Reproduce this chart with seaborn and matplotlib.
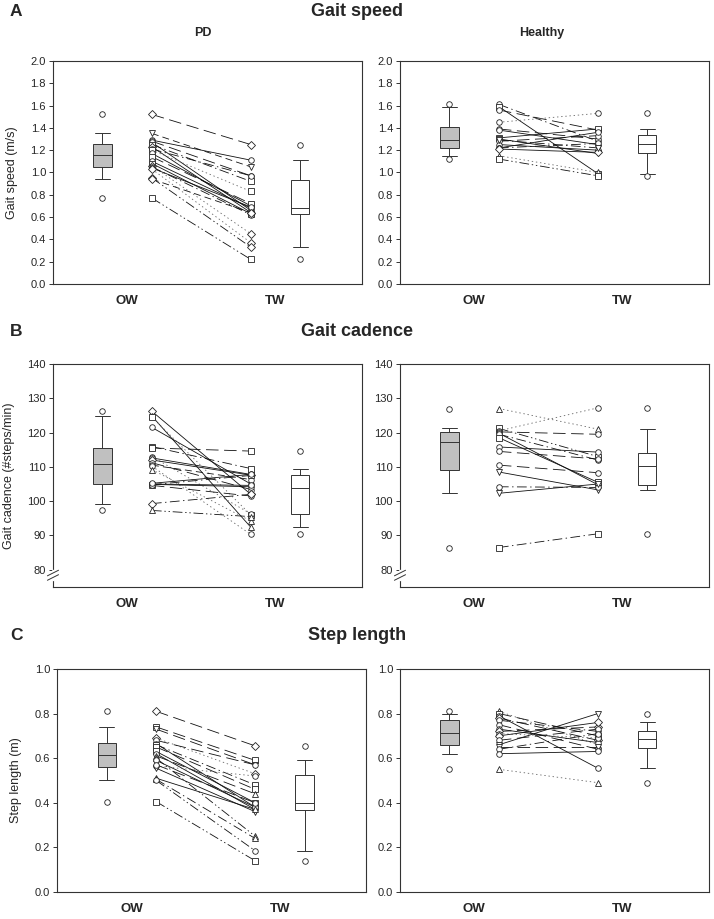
import numpy as np
import matplotlib
matplotlib.use("Agg")
import matplotlib.pyplot as plt
from matplotlib.ticker import FormatStrFormatter
import seaborn as sns

# Gait speed (m/s), one entry per subject: OW = overground, TW = treadmill
speed_pd_ow = [1.52, 1.35, 1.29, 1.28, 1.27, 1.25, 1.23, 1.21, 1.20, 1.17,
               1.14, 1.10, 1.08, 1.06, 1.05, 1.04, 1.03, 0.95, 0.94, 0.77]
speed_pd_tw = [1.25, 1.05, 1.11, 0.97, 0.66, 0.92, 0.64, 0.97, 0.83, 0.70,
               0.72, 0.68, 0.63, 0.45, 0.62, 0.69, 0.37, 0.33, 0.64, 0.22]
speed_pd_mk = list("DvooosDosososDooDDDs")
speed_pd_ls = ["long", "dash", "solid", "long", "solid", "dd", "solid", "dd", "dot", "solid",
               "long", "solid", "solid", "dot", "dd", "solid", "dot", "ddd", "dash", "ddd"]

speed_hc_ow = [1.61, 1.59, 1.56, 1.45, 1.39, 1.38, 1.31, 1.30, 1.28, 1.25,
               1.22, 1.22, 1.21, 1.15, 1.12, 1.29]
speed_hc_tw = [1.28, 0.99, 1.38, 1.53, 1.30, 1.25, 1.39, 1.17, 1.33, 1.20,
               1.36, 1.26, 1.18, 1.00, 0.97, 1.22]
speed_hc_mk = list("osoooosvooooD^sv")
speed_hc_ls = ["dd", "solid", "long", "dot", "long", "solid", "solid", "solid", "long", "solid",
               "solid", "dd", "solid", "dot", "ddd", "dd"]

# Gait cadence (#steps/min)
cad_pd_ow = [126.2, 124.8, 124.5, 121.5, 115.9, 115.5, 113.0, 112.6, 112.0, 111.2,
             110.5, 110.2, 104.9, 109.2, 105.0, 104.8, 104.6, 99.3, 97.3, 105.2]
cad_pd_tw = [102.0, 92.4, 96.0, 105.0, 109.5, 114.6, 96.3, 107.8, 107.6, 103.4,
             106.3, 90.3, 104.2, 94.2, 104.6, 107.5, 101.5, 102.0, 95.5, 107.8]
cad_pd_mk = list("D^sossooDoooo^osoD^o")
cad_pd_ls = ["solid", "solid", "dot", "solid", "dd", "long", "dot", "solid", "solid", "long",
             "dash", "dot", "solid", "dot", "solid", "dd", "long", "dd", "ddd", "solid"]

cad_hc_ow = [127.0, 121.2, 120.5, 120.2, 119.8, 119.5, 118.5, 115.8, 114.5, 110.5,
             108.5, 104.2, 102.3, 86.5]
cad_hc_tw = [121.0, 113.0, 127.2, 119.5, 104.8, 112.0, 105.5, 114.3, 112.3, 108.3,
             103.3, 104.0, 105.0, 90.5]
cad_hc_mk = list("^soooosooovovs")
cad_hc_ls = ["dot", "ddd", "dot", "long", "solid", "dd", "solid", "solid", "long", "long",
             "solid", "dd", "solid", "dd"]

# Step length (m)
step_pd_ow = [0.81, 0.74, 0.73, 0.69, 0.68, 0.665, 0.66, 0.65, 0.63, 0.62,
              0.61, 0.60, 0.59, 0.565, 0.555, 0.51, 0.505, 0.50, 0.405, 0.57]
step_pd_tw = [0.655, 0.59, 0.57, 0.53, 0.57, 0.38, 0.48, 0.46, 0.40, 0.37,
              0.44, 0.25, 0.38, 0.52, 0.36, 0.37, 0.24, 0.185, 0.14, 0.40]
step_pd_mk = list("DsvDoossso^^oov^^oso")
step_pd_ls = ["long", "long", "long", "dot", "long", "solid", "dd", "long", "solid", "solid",
              "long", "ddd", "solid", "dot", "solid", "solid", "dd", "ddd", "ddd", "long"]

step_hc_ow = [0.81, 0.80, 0.79, 0.78, 0.77, 0.75, 0.73, 0.72, 0.71, 0.70,
              0.68, 0.66, 0.65, 0.64, 0.62, 0.55]
step_hc_tw = [0.66, 0.70, 0.555, 0.68, 0.72, 0.64, 0.67, 0.74, 0.69, 0.76,
              0.73, 0.80, 0.65, 0.71, 0.63, 0.49]
step_hc_mk = list("^soDoooDoDovvoo^")
step_hc_ls = ["dot", "long", "solid", "long", "dd", "long", "solid", "long", "dot", "solid",
              "long", "solid", "long", "dd", "solid", "dot"]

conditions = ["OW", "TW"]
groups = ["PD", "Healthy"]
row_titles = ["Gait speed", "Gait cadence", "Step length"]
row_letters = ["A", "B", "C"]
ylabels = ["Gait speed (m/s)", "Gait cadence (#steps/min)", "Step length (m)"]

LS = {"solid": "-", "long": (0, (9, 4)), "dash": (0, (5, 3)), "dot": (0, (1, 2)),
      "dd": (0, (7, 2.5, 1, 2.5)), "ddd": (0, (7, 2, 1, 2, 1, 2))}

sns.set_style("white")
plt.rcParams["font.family"] = ["Liberation Sans", "DejaVu Sans"]
plt.rcParams["lines.scale_dashes"] = False

fig = plt.figure(figsize=(7.14, 9.19), dpi=100)

lefts = [0.0742, 0.5602]
bottoms = [0.6910, 0.3613, 0.0294]
W, H = 0.433, 0.2427

panels = [
    [(speed_pd_ow, speed_pd_tw, speed_pd_mk, speed_pd_ls), (speed_hc_ow, speed_hc_tw, speed_hc_mk, speed_hc_ls)],
    [(cad_pd_ow, cad_pd_tw, cad_pd_mk, cad_pd_ls), (cad_hc_ow, cad_hc_tw, cad_hc_mk, cad_hc_ls)],
    [(step_pd_ow, step_pd_tw, step_pd_mk, step_pd_ls), (step_hc_ow, step_hc_tw, step_hc_mk, step_hc_ls)],
]
ylims = [(0, 2.0), (75, 140), (0, 1.0)]
yticks = [np.arange(0, 2.01, 0.2), np.arange(80, 141, 10), np.arange(0, 1.01, 0.2)]
yfmt = ["%.1f", "%d", "%.1f"]
ylabel_x = [-0.113, -0.123, -0.114]

box_kw = dict(native_scale=True, orient="x", width=0.37, saturation=1, linewidth=0.7,
              linecolor="#333333", whis=(5, 95), capwidths=0.3,
              flierprops=dict(marker="o", markerfacecolor="white", markeredgecolor="#222222",
                              markersize=4, markeredgewidth=0.6))

for r in range(3):
    for c in range(2):
        left = lefts[c] + (0.006 if (r == 2 and c == 0) else 0)
        ax = fig.add_axes([left, bottoms[r], W, H])
        ow, tw, mk, ls = panels[r][c]

        # paired subject lines OW -> TW
        for a, b, m, s in zip(ow, tw, mk, ls):
            col = "#666666" if s == "dot" else "#111111"
            ax.plot([2, 4], [a, b], linestyle=LS[s], color=col, lw=0.6, zorder=2)
            ax.plot([2, 4], [a, b], linestyle="none", marker=m,
                    ms=3.6 if m == "D" else 4, mfc="white", mec="#222222", mew=0.6, zorder=3)

        sns.boxplot(x=np.full(len(ow), 1.0), y=ow, color="#c0c0c0", ax=ax, **box_kw)
        sns.boxplot(x=np.full(len(tw), 5.0), y=tw, color="white", ax=ax, **box_kw)

        ax.set_xlim(0, 6.25)
        ax.set_ylim(*ylims[r])
        ax.set_yticks(yticks[r])
        ax.yaxis.set_major_formatter(FormatStrFormatter(yfmt[r]))
        ax.set_xticks([1.5, 4.5])
        ax.set_xticklabels(conditions, fontweight="bold", fontsize=9.5)
        ax.tick_params(axis="x", length=0, pad=8)
        ax.tick_params(axis="y", direction="out", length=3, width=0.7, labelsize=8,
                       color="#333333", left=True, pad=2)
        ax.set_xlabel("")
        ax.set_ylabel("")
        for sp in ax.spines.values():
            sp.set_color("#333333")
            sp.set_linewidth(0.8)
        if c == 0:
            ax.set_ylabel(ylabels[r], fontsize=9)
            ax.yaxis.set_label_coords(ylabel_x[r], 0.5)

        if r == 1:
            # axis break marks on the left spine
            ax.plot([0, 0], [0.035, 0.07], transform=ax.transAxes, color="white",
                    lw=2.5, clip_on=False, zorder=5)
            for dy in (0.0, 0.02):
                ax.plot([-0.018, 0.018], [0.03 + dy, 0.055 + dy], transform=ax.transAxes,
                        color="#333333", lw=0.7, clip_on=False, zorder=6)

row_y = [1 - 12 / 919, 1 - 331 / 919, 1 - 635 / 919]
for r in range(3):
    fig.text(0.014, row_y[r], row_letters[r], fontsize=12.5, fontweight="bold", va="center", ha="left")
    fig.text(0.5, row_y[r], row_titles[r], fontsize=13, fontweight="bold", ha="center", va="center")
fig.text(0.284, 1 - 33 / 919, groups[0], fontsize=9, fontweight="bold", ha="center", va="center")
fig.text(0.759, 1 - 33 / 919, groups[1], fontsize=9, fontweight="bold", ha="center", va="center")

fig.savefig("out.png", dpi=100)
